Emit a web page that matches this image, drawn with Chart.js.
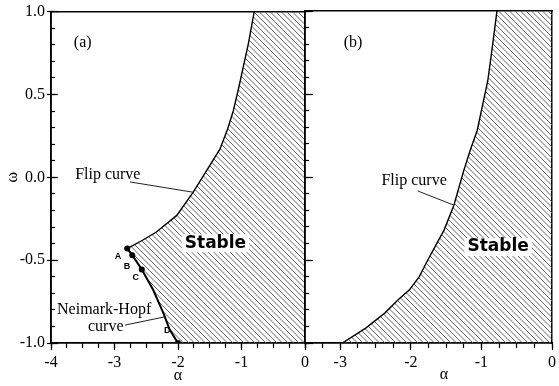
<!DOCTYPE html>
<html>
<head>
<meta charset="utf-8">
<script src="https://cdn.jsdelivr.net/npm/chart.js@4.4.1/dist/chart.umd.min.js"></script>
<style>
  body { margin: 0; background: #fff; width: 559px; height: 386px; overflow: hidden; position: relative; }
  canvas { position: absolute; top: 0; }
  #ca { left: 0; }
  #cb { left: 295px; }
</style>
</head>
<body>
<canvas id="ca" width="330" height="386"></canvas>
<canvas id="cb" width="264" height="386"></canvas>
<script>
// panel (a): Neimark-Hopf curve, from A down to D
const nhAlpha = [-2.80, -2.72, -2.57, -2.39, -2.23, -2.13, -2.00];
const nhOmega = [-0.43, -0.47, -0.556, -0.68, -0.82, -0.92, -1.00];
// panel (a): flip curve, from A up to the top edge
const flipAAlpha = [-2.80, -2.56, -2.34, -2.02, -1.76, -1.55, -1.34, -1.22, -1.13, -1.05, -0.89, -0.80];
const flipAOmega = [-0.43, -0.38, -0.33, -0.23, -0.09, 0.04, 0.17, 0.29, 0.40, 0.53, 0.81, 1.00];
// marked points on the Neimark-Hopf curve
const ptNames = ['A', 'B', 'C', 'D'];
const ptAlpha = [-2.80, -2.72, -2.57, -2.00];
const ptOmega = [-0.43, -0.47, -0.556, -1.00];
// panel (b): flip curve
const flipBAlpha = [-2.97, -2.64, -2.37, -2.18, -2.02, -1.88, -1.76, -1.53, -1.39, -1.25, -1.16, -1.06, -0.91, -0.84, -0.78];
const flipBOmega = [-1.00, -0.91, -0.82, -0.74, -0.68, -0.60, -0.50, -0.32, -0.17, 0.04, 0.16, 0.28, 0.58, 0.80, 1.00];
// axis ranges
const alphaA = [-4, 0];
const alphaB = [-3.5, 0];
const omegaRange = [-1, 1];

const SERIF = '"Liberation Serif", "Times New Roman", serif';
const INK = '#000';
Chart.defaults.font.family = SERIF;
Chart.defaults.font.size = 16;
Chart.defaults.color = INK;

const pts = (xs, ys) => xs.map((x, i) => ({ x, y: ys[i] }));

function hatch() {
  const c = document.createElement('canvas');
  c.width = c.height = 11;
  const g = c.getContext('2d');
  g.strokeStyle = '#555';
  g.lineWidth = 0.9;
  g.beginPath();
  for (const o of [-11, -5.5, 0, 5.5, 11]) { g.moveTo(o, 0); g.lineTo(o + 11, 11); }
  g.stroke();
  return g.createPattern(c, 'repeat');
}

// one axis: tick marks, frame line, maybe labels; its box size is forced
function axisCfg(axis, position, range, o) {
  return {
    type: 'linear', axis, position, min: range[0], max: range[1], weight: o.weight || 0,
    ticks: {
      display: !!o.labels, stepSize: o.step, autoSkip: false, includeBounds: false,
      padding: o.pad || 0, color: INK, font: { family: SERIF, size: 16 }, callback: o.labels
    },
    grid: { display: !!o.step, drawOnChartArea: false, tickLength: o.len || 0, tickColor: INK, tickWidth: 1.2 },
    border: { display: true, color: INK, width: 1.5 },
    title: o.title || { display: false },
    afterFit: s => { if (axis === 'x') s.height = o.size || 0; else s.width = o.size || 0; }
  };
}

const xLab = v => Number.isInteger(v) ? String(v) : '';
const yLab = v => v.toFixed(1);

const notesPlugin = {
  id: 'notes',
  afterDatasetsDraw(chart, args, opts) {
    const { ctx } = chart;
    const x = chart.scales.x, y = chart.scales.y;
    ctx.save();
    (opts.lines || []).forEach(l => {
      ctx.beginPath();
      ctx.strokeStyle = '#222';
      ctx.lineWidth = 1;
      ctx.moveTo(x.getPixelForValue(l[0]), y.getPixelForValue(l[1]));
      ctx.lineTo(x.getPixelForValue(l[2]), y.getPixelForValue(l[3]));
      ctx.stroke();
    });
    (opts.texts || []).forEach(t => {
      const px = x.getPixelForValue(t.x), py = y.getPixelForValue(t.y);
      ctx.font = t.font || ('16px ' + SERIF);
      ctx.textAlign = t.align || 'left';
      ctx.textBaseline = 'middle';
      if (t.box) {
        const w = ctx.measureText(t.text).width;
        const left = t.align === 'center' ? px - w / 2 : px;
        ctx.fillStyle = '#fff';
        ctx.fillRect(left - 3, py - 9, w + 6, 18);
      }
      ctx.fillStyle = INK;
      ctx.fillText(t.text, px, py);
    });
    ctx.restore();
  }
};

const pattern = hatch();
const curveStyle = { borderColor: INK, pointRadius: 0, fill: false, tension: 0, xAxisID: 'x', yAxisID: 'y', order: 1 };

// hatched "stable" regions, closed along the right frame
const stableA = [
  ...pts(nhAlpha, nhOmega).reverse(),
  ...pts(flipAAlpha, flipAOmega).slice(1),
  { x: alphaA[1], y: omegaRange[1] }, { x: alphaA[1], y: omegaRange[0] }
];
const stableB = [
  ...pts(flipBAlpha, flipBOmega),
  { x: alphaB[1], y: omegaRange[1] }, { x: alphaB[1], y: omegaRange[0] }
];

const common = {
  responsive: false, animation: false, events: [],
  plugins: { legend: { display: false }, tooltip: { enabled: false } }
};
const serifTitle = (text, padding) => ({ display: true, text, color: INK, font: { family: SERIF, size: 16 }, padding });
const smallBold = 'bold 9px "Liberation Sans", sans-serif';
const stableFont = 'bold 17px "DejaVu Sans", sans-serif';

new Chart(document.getElementById('ca'), {
  type: 'line',
  data: {
    datasets: [
      { ...curveStyle, data: pts(flipAAlpha, flipAOmega), borderWidth: 1.4 },
      { ...curveStyle, data: pts(nhAlpha, nhOmega), borderWidth: 2 },
      { ...curveStyle, data: pts(ptAlpha, ptOmega), showLine: false, pointRadius: 3,
        pointBackgroundColor: INK, pointBorderWidth: 0, order: 0 },
      { ...curveStyle, data: stableA, fill: 'shape', backgroundColor: pattern,
        borderColor: 'rgba(0,0,0,0)', borderWidth: 0, order: 5 }
    ]
  },
  options: {
    ...common,
    layout: { autoPadding: false, padding: { top: 11, right: 25, bottom: 0, left: 0 } },
    scales: {
      x: axisCfg('x', 'bottom', alphaA, { step: 1, len: 7, labels: xLab, pad: 3, size: 43, weight: 2,
        title: serifTitle('α', { top: 0, bottom: 1 }) }),
      y: axisCfg('y', 'left', omegaRange, { step: 0.5, len: 4, labels: yLab, pad: 2, size: 51, weight: 2,
        title: serifTitle('ω', { top: 3, bottom: 0 }) }),
      xMinor: axisCfg('x', 'bottom', alphaA, { step: 0.25, len: 5, weight: 1 }),
      xTop: axisCfg('x', 'top', alphaA, {}),
      yMajIn: axisCfg('y', 'left', omegaRange, { step: 0.5, len: -7, weight: 1 }),
      yMinor: axisCfg('y', 'left', omegaRange, { step: 0.1, len: -4, weight: 0 }),
      yRight: axisCfg('y', 'right', omegaRange, {})
    },
    plugins: {
      ...common.plugins,
      notes: {
        lines: [[-2.756, -0.028, -1.764, -0.09], [-2.835, -0.892, -2.205, -0.842]],
        texts: [
          { x: -3.5, y: 0.81, text: '(a)', align: 'center' },
          { x: -3.62, y: 0.018, text: 'Flip curve' },
          { x: -1.41, y: -0.398, text: 'Stable', align: 'center', box: true, font: stableFont },
          { x: -3.905, y: -0.80, text: 'Neimark-Hopf' },
          { x: -3.417, y: -0.904, text: 'curve' },
          { x: -2.945, y: -0.48, text: ptNames[0], align: 'center', font: smallBold },
          { x: -2.803, y: -0.54, text: ptNames[1], align: 'center', font: smallBold },
          { x: -2.666, y: -0.607, text: ptNames[2], align: 'center', font: smallBold },
          { x: -2.168, y: -0.922, text: ptNames[3], align: 'center', font: smallBold }
        ]
      }
    }
  },
  plugins: [notesPlugin]
});

new Chart(document.getElementById('cb'), {
  type: 'line',
  data: {
    datasets: [
      { ...curveStyle, data: pts(flipBAlpha, flipBOmega), borderWidth: 1.4 },
      { ...curveStyle, data: stableB, fill: 'shape', backgroundColor: pattern,
        borderColor: 'rgba(0,0,0,0)', borderWidth: 0, order: 5 }
    ]
  },
  options: {
    ...common,
    layout: { autoPadding: false, padding: { top: 11, right: 2, bottom: 0, left: 10 } },
    scales: {
      x: axisCfg('x', 'bottom', alphaB, { step: 1, len: 7, labels: xLab, pad: 3, size: 43, weight: 2 }),
      y: axisCfg('y', 'left', omegaRange, { step: 0.5, len: -8, weight: 1 }),
      xMinor: axisCfg('x', 'bottom', alphaB, { step: 0.25, len: 5, weight: 1 }),
      xTop: axisCfg('x', 'top', alphaB, {}),
      yMinor: axisCfg('y', 'left', omegaRange, { step: 0.1, len: -4, weight: 0 }),
      yRight: axisCfg('y', 'right', omegaRange, {})
    },
    plugins: {
      ...common.plugins,
      notes: {
        lines: [[-1.903, -0.084, -1.393, -0.169]],
        texts: [
          { x: -2.82, y: 0.807, text: '(b)', align: 'center' },
          { x: -2.417, y: -0.022, text: 'Flip curve' },
          { x: -0.764, y: -0.422, text: 'Stable', align: 'center', box: true, font: stableFont },
          { x: -1.53, y: -1.193, text: 'α', align: 'center' }
        ]
      }
    }
  },
  plugins: [notesPlugin]
});
</script>
</body>
</html>
